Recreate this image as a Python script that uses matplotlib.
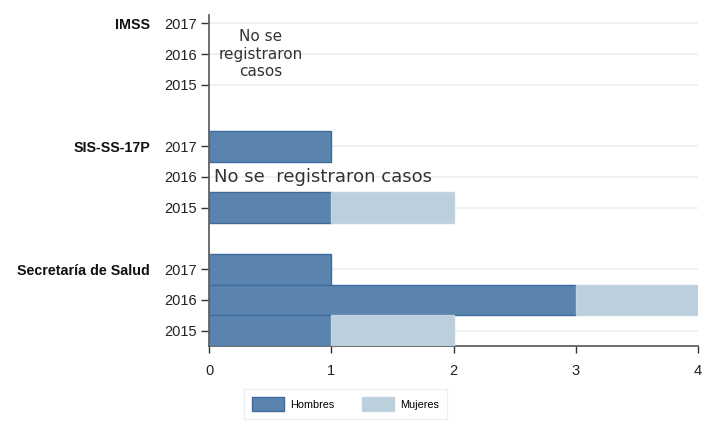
import numpy as np
import matplotlib.pyplot as plt
from matplotlib.patches import Patch

# datos
grupos = ['IMSS', 'SIS-SS-17P', 'Secretaría de Salud']
anios = ['2017', '2016', '2015']
hombres = [[0, 0, 0], [1, 0, 1], [1, 3, 1]]
mujeres = [[0, 0, 0], [0, 0, 1], [0, 1, 1]]

c_h = '#5a84ae'
c_h_borde = '#3f6b9c'
c_m = '#bccfdc'
c_m_borde = '#c3d4e0'

fig = plt.figure(figsize=(7.14, 4.21), dpi=100)
ax = fig.add_axes([209 / 714, 75 / 421, 489 / 714, 331 / 421])

pos = []
etiquetas = []
for g in range(len(grupos)):
    for k in range(len(anios)):
        y = g * 4 + k
        pos.append(y)
        etiquetas.append(anios[k])
        h = hombres[g][k]
        m = mujeres[g][k]
        if h > 0:
            ax.barh(y, h, height=1.0, color=c_h, edgecolor=c_h_borde, linewidth=1, zorder=3)
        if m > 0:
            ax.barh(y, m, left=h, height=1.0, color=c_m, edgecolor=c_m_borde, linewidth=1, zorder=3)

for y in pos:
    ax.axhline(y, color='#e9f0f3', linewidth=1.2, zorder=1)

ax.set_ylim(10.5, -0.27)
ax.set_xlim(0, 4)
ax.set_yticks(pos)
ax.set_yticklabels(etiquetas, family='Liberation Sans', fontsize=10.5, color='#222222')
ax.set_xticks([0, 1, 2, 3, 4])
ax.set_xticklabels(['0', '1', '2', '3', '4'], family='Liberation Sans', fontsize=10.5, color='#222222')
ax.tick_params(axis='y', length=6, width=1, color='#333333', pad=3)
ax.tick_params(axis='x', length=5, width=1, color='#333333', pad=8)

for s in ['top', 'right']:
    ax.spines[s].set_visible(False)
for s in ['left', 'bottom']:
    ax.spines[s].set_color('#555555')
    ax.spines[s].set_linewidth(1.2)

for g in range(len(grupos)):
    ax.annotate(grupos[g], xy=(150 / 714, g * 4), xycoords=('figure fraction', 'data'),
                ha='right', va='center_baseline', family='Liberation Sans', fontweight='bold',
                fontsize=10.3, color='#111111', annotation_clip=False)

ax.text(0.42, 1, 'No se\nregistraron\ncasos', ha='center', va='center', family='DejaVu Sans',
        fontsize=11, color='#333333', linespacing=1.2, zorder=4)
ax.text(0.04, 5, 'No se  registraron casos', ha='left', va='center', family='DejaVu Sans',
        fontsize=13, color='#333333', zorder=4)

handles = [Patch(facecolor=c_h, edgecolor=c_h_borde, label='Hombres'),
           Patch(facecolor=c_m, edgecolor=c_m_borde, label='Mujeres')]
leg = fig.legend(handles=handles, loc='center', bbox_to_anchor=(345.5 / 714, 1 - 404 / 421),
                 ncol=2, frameon=True, fancybox=False, prop={'family': 'Liberation Sans', 'size': 7.8},
                 handlelength=2.95, handleheight=1.66, columnspacing=2.6, borderpad=0.75,
                 handletextpad=0.55)
leg.get_frame().set_edgecolor('#e6ecef')
leg.get_frame().set_linewidth(1)

plt.savefig('out.png', dpi=100)
